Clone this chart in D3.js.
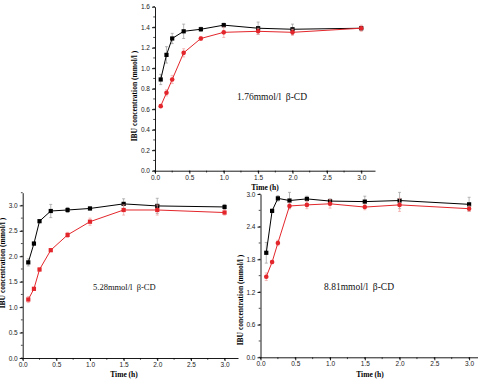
<!DOCTYPE html>
<html>
<head>
<meta charset="utf-8">
<script src="https://cdn.jsdelivr.net/npm/d3@7"></script>
<style>
  body { margin: 0; background: #fff; }
  svg { display: block; }
</style>
</head>
<body>
<svg id="chart" width="478" height="384"></svg>
<script>
// sampling times (h)
const times = [0.083, 0.167, 0.25, 0.417, 0.667, 1.0, 1.5, 2.0, 3.0];

// 1.76 mmol/l beta-CD
const blackA = [0.89, 1.13, 1.29, 1.36, 1.38, 1.42, 1.39, 1.38, 1.39];
const blackAErr = [0.05, 0.08, 0.05, 0.07, 0.02, 0.02, 0.06, 0.05, 0.02];
const redA = [0.63, 0.76, 0.89, 1.15, 1.29, 1.35, 1.36, 1.35, 1.39];
const redAErr = [0.01, 0.03, 0.04, 0.04, 0.02, 0.05, 0.03, 0.03, 0.03];

// 5.28 mmol/l beta-CD
const blackB = [1.88, 2.25, 2.69, 2.89, 2.91, 2.94, 3.03, 2.99, 2.97];
const blackBErr = [0.07, 0.03, 0.02, 0.13, 0.05, 0.03, 0.1, 0.15, 0.05];
const redB = [1.15, 1.36, 1.74, 2.12, 2.42, 2.68, 2.91, 2.91, 2.86];
const redBErr = [0.06, 0.03, 0.03, 0.03, 0.05, 0.07, 0.1, 0.1, 0.05];

// 8.81 mmol/l beta-CD
const blackC = [1.92, 2.69, 2.92, 2.88, 2.91, 2.87, 2.86, 2.88, 2.81];
const blackCErr = [0.19, 0.03, 0.05, 0.15, 0.05, 0.04, 0.1, 0.15, 0.13];
const redC = [1.48, 1.75, 2.10, 2.78, 2.80, 2.82, 2.76, 2.80, 2.73];
const redCErr = [0.07, 0.03, 0.05, 0.05, 0.07, 0.08, 0.05, 0.12, 0.05];

const xTicks = [0, 0.5, 1.0, 1.5, 2.0, 2.5, 3.0];
const yTicksA = [0, 0.2, 0.4, 0.6, 0.8, 1.0, 1.2, 1.4, 1.6];
const yTicksB = [0, 0.5, 1.0, 1.5, 2.0, 2.5, 3.0];
const yTicksC = [0, 0.6, 1.2, 1.8, 2.4, 3.0];

const labelA = "1.76mmol/l  β-CD";
const labelB = "5.28mmol/l  β-CD";
const labelC = "8.81mmol/l  β-CD";
const xTitle = "Time (h)";
const yTitle = "IBU concentration (mmol/l )";

const svg = d3.select('#chart');
const RED = '#e3262b';

function drawPanel(p) {
    const g = svg.append('g');
    const x = d3.scaleLinear().domain([0, 3.2]).range([p.x0, p.x1]);
    const y = d3.scaleLinear().domain([0, p.yMax]).range([p.y0, p.y1]);

    // minor ticks
    const xMinor = d3.range(0, 3.2001, 0.25);
    g.selectAll('.xminor').data(xMinor).enter().append('line')
        .attr('x1', d => x(d)).attr('x2', d => x(d))
        .attr('y1', p.y0).attr('y2', p.y0 + 1.8)
        .attr('stroke', '#000').attr('stroke-width', 0.7);
    const yMinor = d3.range(0, p.yMax + 0.0001, p.yStep / 2);
    g.selectAll('.yminor').data(yMinor).enter().append('line')
        .attr('x1', p.x0 - 1.8).attr('x2', p.x0)
        .attr('y1', d => y(d)).attr('y2', d => y(d))
        .attr('stroke', '#000').attr('stroke-width', 0.7);

    const xAxis = g.append('g')
        .attr('transform', `translate(0,${p.y0})`)
        .call(d3.axisBottom(x).tickValues(xTicks).tickFormat(d3.format('.1f')).tickSize(3).tickPadding(1.5).tickSizeOuter(0));
    const yAxis = g.append('g')
        .attr('transform', `translate(${p.x0},0)`)
        .call(d3.axisLeft(y).tickValues(p.yTicks).tickFormat(d3.format('.1f')).tickSize(3).tickPadding(2).tickSizeOuter(0));
    [xAxis, yAxis].forEach(a => {
        a.selectAll('text').attr('font-family', 'Liberation Sans, Arial, sans-serif')
            .attr('font-size', p.tickFont).attr('fill', '#222');
        a.selectAll('line,path').attr('stroke', '#000').attr('stroke-width', 0.9);
    });

    const series = [
        { vals: p.black, err: p.blackErr, color: '#000', errColor: '#999', shape: 'square' },
        { vals: p.red, err: p.redErr, color: RED, errColor: '#f0a0a0', shape: p.redShape }
    ];
    series.forEach(s => {
        const pts = times.map((t, i) => ({ t: t, v: s.vals[i], e: s.err[i] }));
        // error bars
        const eb = g.append('g');
        eb.selectAll('line.v').data(pts).enter().append('line')
            .attr('x1', d => x(d.t)).attr('x2', d => x(d.t))
            .attr('y1', d => y(d.v - d.e)).attr('y2', d => y(d.v + d.e))
            .attr('stroke', s.errColor).attr('stroke-width', 0.7);
        ['-', '+'].forEach(sign => {
            eb.selectAll('line.c' + (sign === '+' ? 'p' : 'm')).data(pts).enter().append('line')
                .attr('x1', d => x(d.t) - 1.5).attr('x2', d => x(d.t) + 1.5)
                .attr('y1', d => y(sign === '+' ? d.v + d.e : d.v - d.e))
                .attr('y2', d => y(sign === '+' ? d.v + d.e : d.v - d.e))
                .attr('stroke', s.errColor).attr('stroke-width', 0.7);
        });
        g.append('path').datum(pts)
            .attr('fill', 'none').attr('stroke', s.color).attr('stroke-width', 1)
            .attr('d', d3.line().x(d => x(d.t)).y(d => y(d.v)));
        if (s.shape === 'square') {
            g.selectAll(null).data(pts).enter().append('rect')
                .attr('x', d => x(d.t) - 2.1).attr('y', d => y(d.v) - 2.1)
                .attr('width', 4.2).attr('height', 4.2).attr('fill', s.color);
        } else {
            g.selectAll(null).data(pts).enter().append('circle')
                .attr('cx', d => x(d.t)).attr('cy', d => y(d.v))
                .attr('r', 2.3).attr('fill', s.color);
        }
    });

    g.append('text')
        .attr('x', p.xTitle[0]).attr('y', p.xTitle[1])
        .attr('text-anchor', 'middle')
        .attr('font-family', 'Liberation Serif, Times New Roman, serif')
        .attr('font-weight', 'bold').attr('font-size', p.titleFont)
        .text(xTitle);
    g.append('text')
        .attr('transform', `translate(${p.yTitle[0]},${p.yTitle[1]}) rotate(-90)`)
        .attr('text-anchor', 'middle')
        .attr('font-family', 'Liberation Serif, Times New Roman, serif')
        .attr('font-weight', 'bold').attr('font-size', p.titleFont)
        .text(yTitle);
    g.append('text')
        .attr('x', p.note[0]).attr('y', p.note[1])
        .attr('font-family', 'Liberation Serif, Times New Roman, serif')
        .attr('font-size', p.noteFont).attr('fill', '#111')
        .attr('xml:space', 'preserve')
        .style('white-space', 'pre')
        .text(p.label);
}

drawPanel({
    x0: 155, x1: 375, y0: 170.7, y1: 6.7, yMax: 1.6, yStep: 0.2, yTicks: yTicksA,
    black: blackA, blackErr: blackAErr, red: redA, redErr: redAErr, redShape: 'circle',
    tickFont: 6.5, titleFont: 7.5, noteFont: 9.5,
    xTitle: [265, 190], yTitle: [137, 96], note: [237, 100], label: labelA
});
drawPanel({
    x0: 22.7, x1: 238, y0: 358, y1: 192.7, yMax: 3.25, yStep: 0.5, yTicks: yTicksB,
    black: blackB, blackErr: blackBErr, red: redB, redErr: redBErr, redShape: 'square',
    tickFont: 6.5, titleFont: 7.5, noteFont: 8.5,
    xTitle: [124, 376.5], yTitle: [5, 263], note: [93, 290], label: labelB
});
drawPanel({
    x0: 260.5, x1: 483, y0: 357.3, y1: 194, yMax: 3.0, yStep: 0.6, yTicks: yTicksC,
    black: blackC, blackErr: blackCErr, red: redC, redErr: redCErr, redShape: 'circle',
    tickFont: 6.5, titleFont: 7.5, noteFont: 9.5,
    xTitle: [370, 377], yTitle: [243, 300], note: [324, 290], label: labelC
});
</script>
</body>
</html>
